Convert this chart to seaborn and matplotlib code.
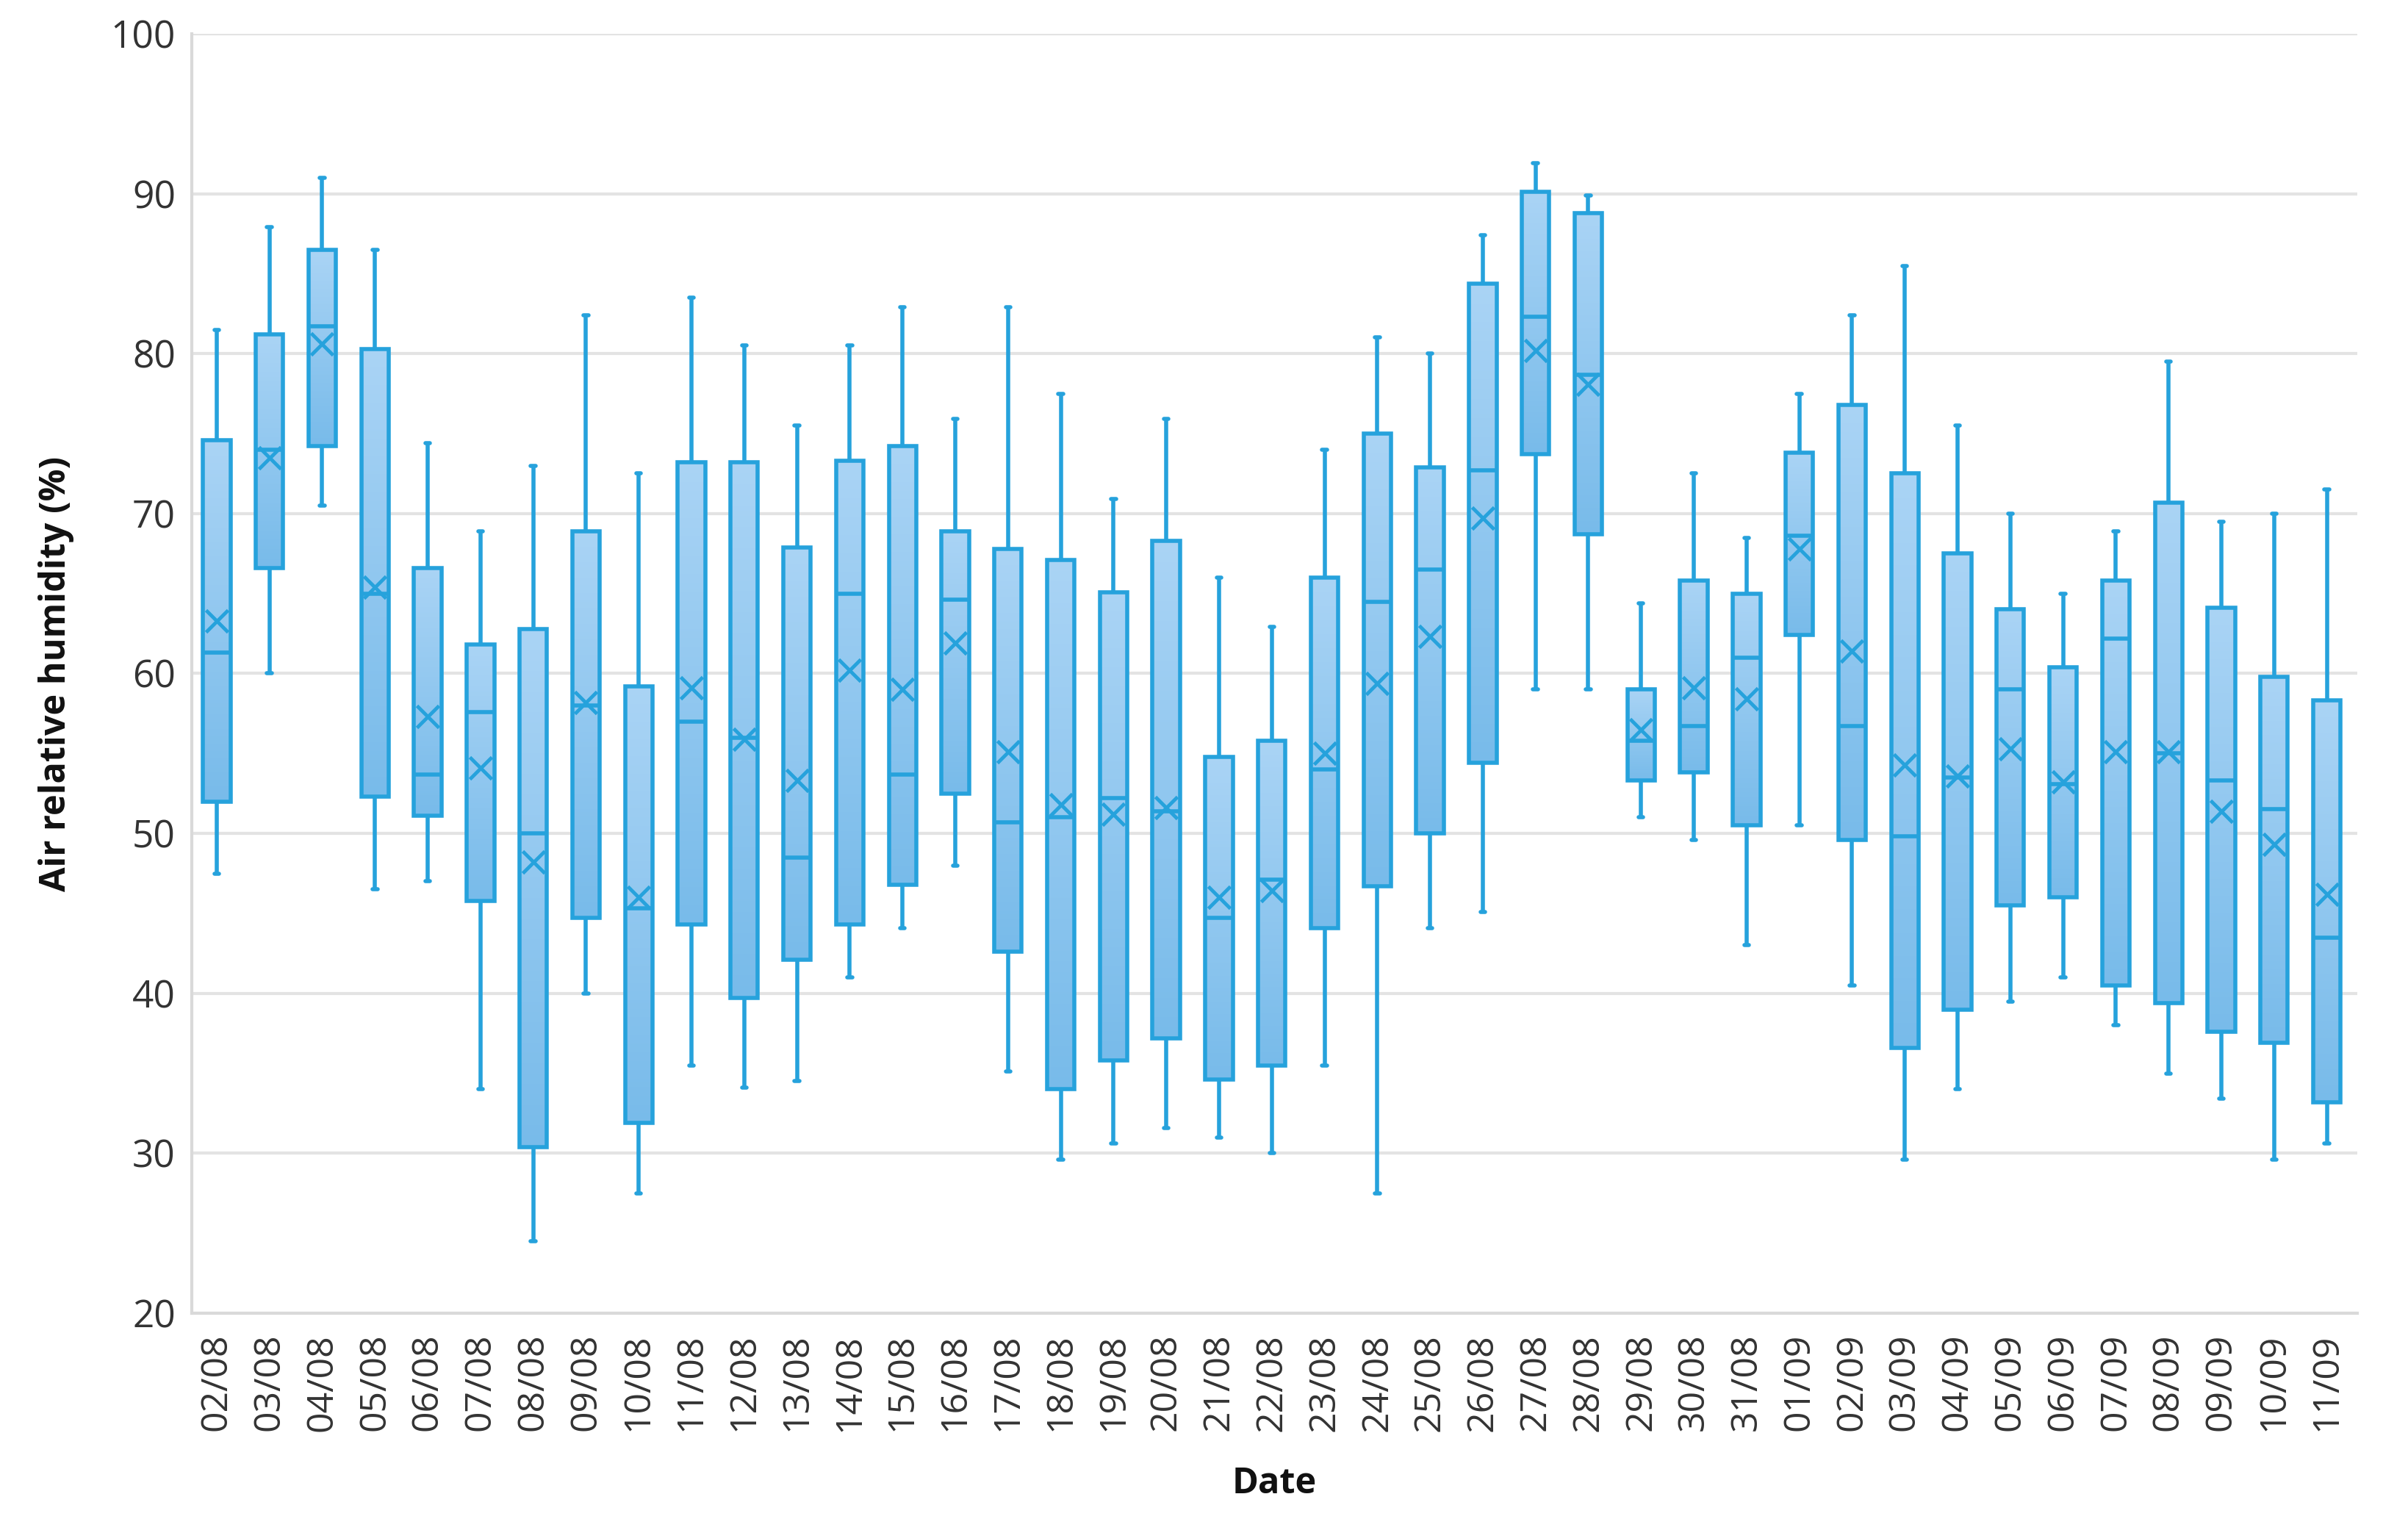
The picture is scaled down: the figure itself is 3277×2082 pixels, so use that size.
import matplotlib.pyplot as plt
import matplotlib.colors as mcolors
import numpy as np
import pandas as pd
import seaborn as sns

dates = ["02/08", "03/08", "04/08", "05/08", "06/08", "07/08", "08/08", "09/08", "10/08", "11/08",
         "12/08", "13/08", "14/08", "15/08", "16/08", "17/08", "18/08", "19/08", "20/08", "21/08",
         "22/08", "23/08", "24/08", "25/08", "26/08", "27/08", "28/08", "29/08", "30/08", "31/08",
         "01/09", "02/09", "03/09", "04/09", "05/09", "06/09", "07/09", "08/09", "09/09", "10/09",
         "11/09"]

whisker_low = [47.5, 60.0, 70.5, 46.5, 47.0, 34.0, 24.5, 40.0, 27.5, 35.5,
               34.1, 34.5, 41.0, 44.1, 48.0, 35.1, 29.6, 30.6, 31.6, 31.0,
               30.0, 35.5, 27.5, 44.1, 45.1, 59.0, 59.0, 51.0, 49.6, 43.0,
               50.5, 40.5, 29.6, 34.0, 39.5, 41.0, 38.0, 35.0, 33.4, 29.6,
               30.6]
q1 = [52.0, 66.6, 74.2, 52.3, 51.1, 45.8, 30.4, 44.7, 31.9, 44.3,
      39.7, 42.1, 44.3, 46.8, 52.5, 42.6, 34.0, 35.8, 37.2, 34.6,
      35.5, 44.1, 46.7, 50.0, 54.4, 73.7, 68.7, 53.3, 53.8, 50.5,
      62.4, 49.6, 36.6, 39.0, 45.5, 46.0, 40.5, 39.4, 37.6, 36.9,
      33.2]
median = [61.3, 74.0, 81.7, 65.0, 53.7, 57.6, 50.0, 58.0, 45.3, 57.0,
          56.0, 48.5, 65.0, 53.7, 64.6, 50.7, 51.0, 52.2, 51.4, 44.7,
          47.1, 54.0, 64.5, 66.5, 72.7, 82.3, 78.7, 55.8, 56.7, 61.0,
          68.6, 56.7, 49.8, 53.5, 59.0, 53.1, 62.2, 55.0, 53.3, 51.5,
          43.5]
q3 = [74.6, 81.2, 86.5, 80.3, 66.6, 61.8, 62.8, 68.9, 59.2, 73.2,
      73.2, 67.9, 73.3, 74.2, 68.9, 67.8, 67.1, 65.1, 68.3, 54.8,
      55.8, 66.0, 75.0, 72.9, 84.4, 90.1, 88.8, 59.0, 65.8, 65.0,
      73.8, 76.8, 72.5, 67.5, 64.0, 60.4, 65.8, 70.7, 64.1, 59.8,
      58.3]
whisker_high = [81.5, 87.9, 91.0, 86.5, 74.4, 68.9, 73.0, 82.4, 72.5, 83.5,
                80.5, 75.5, 80.5, 82.9, 75.9, 82.9, 77.5, 70.9, 75.9, 66.0,
                62.9, 74.0, 81.0, 80.0, 87.4, 91.9, 89.9, 64.4, 72.5, 68.5,
                77.5, 82.4, 85.5, 75.5, 70.0, 65.0, 68.9, 79.5, 69.5, 70.0,
                71.5]
mean = [63.3, 73.5, 80.6, 65.4, 57.3, 54.1, 48.2, 58.2, 46.0, 59.1,
        55.9, 53.3, 60.2, 59.0, 61.9, 55.1, 51.8, 51.2, 51.6, 46.0,
        46.4, 55.0, 59.4, 62.3, 69.7, 80.2, 78.1, 56.5, 59.1, 58.4,
        67.8, 61.4, 54.3, 53.6, 55.3, 53.2, 55.1, 55.1, 51.4, 49.3,
        46.2]

edge = "#26A2DC"
grad = mcolors.LinearSegmentedColormap.from_list("box", ["#78BBEA", "#AAD4F5"])

# five-number summary per day -> box drawn by seaborn with whiskers at min/max
rows = []
for i, d in enumerate(dates):
    for v in (whisker_low[i], q1[i], median[i], q3[i], whisker_high[i]):
        rows.append({"Date": d, "value": v})
df = pd.DataFrame(rows)

sns.set_style("white")
plt.rcParams["font.family"] = ["Open Sans", "DejaVu Sans"]

fig = plt.figure(figsize=(32.77, 20.82), dpi=100)
ax = fig.add_axes([0.0797, 0.1417, 0.8993, 0.8362])

sns.boxplot(data=df, x="Date", y="value", order=dates, whis=(0, 100), width=0.52,
            color="#ABD5F5", linecolor=edge, linewidth=4, showfliers=False,
            capwidths=0.09, ax=ax)

# gradient fill inside each box, kept under the median lines
for patch in list(ax.patches):
    ext = patch.get_path().get_extents()
    patch.set_facecolor("none")
    patch.set_zorder(1.6)
    img = ax.imshow(np.linspace(0, 1, 256).reshape(-1, 1), extent=[ext.x0, ext.x1, ext.y0, ext.y1],
                    origin="lower", aspect="auto", cmap=grad, zorder=1.2)
    img.set_clip_path(patch)

sns.pointplot(x=dates, y=mean, order=dates, color=edge, markers="x", linestyles="none",
              markersize=22, markeredgewidth=3.5, errorbar=None, ax=ax)
ax.lines[-1].set_zorder(4)

ax.set_xlim(-0.47, 40.58)
ax.set_ylim(20, 100)
ax.set_yticks(np.arange(20, 101, 10))
ax.grid(axis="y", color="#E3E3E3", linewidth=3)
ax.set_axisbelow(True)
for s in ["top", "right"]:
    ax.spines[s].set_visible(False)
for s in ["left", "bottom"]:
    ax.spines[s].set_color("#D9D9D9")
    ax.spines[s].set_linewidth(3)

ax.tick_params(axis="y", length=0, labelsize=37, colors="#333333", pad=16)
ax.tick_params(axis="x", length=0, labelsize=36, colors="#333333", pad=20, labelrotation=90)
ax.set_xlabel("Date", fontsize=35, fontweight="bold", color="#111111", labelpad=34)
ax.set_ylabel("Air relative humidity (%)", fontsize=35, fontweight="bold", color="#111111", labelpad=36)

fig.savefig("out.png", dpi=100)
